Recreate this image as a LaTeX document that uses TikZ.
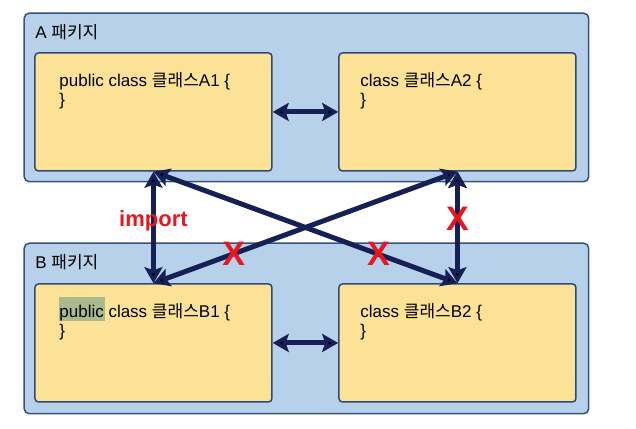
\documentclass[tikz,border=0pt]{standalone}
\usepackage{fontspec}
\setmainfont{Liberation Sans}
\newfontfamily\kr{Noto Sans CJK KR}
\usetikzlibrary{positioning,calc,backgrounds,arrows.meta}

\definecolor{pkgfill}{RGB}{184,209,234}
\definecolor{pkgline}{RGB}{52,82,128}
\definecolor{clsfill}{RGB}{251,226,150}
\definecolor{clsline}{RGB}{48,74,118}
\definecolor{navy}{RGB}{22,32,84}
\definecolor{xred}{RGB}{232,22,30}
\definecolor{selgreen}{RGB}{169,186,142}

\tikzstyle{package}=[draw=pkgline,line width=1.5pt,fill=pkgfill,rounded corners=5pt]
\tikzstyle{classbox}=[draw=clsline,line width=1.5pt,fill=clsfill,rounded corners=3.5pt,minimum width=237pt,minimum height=118pt]
\tikzstyle{codetext}=[inner sep=0pt,align=left,font=\fontsize{17}{19}\selectfont]
\tikzstyle{pkglabel}=[inner sep=0pt,font=\fontsize{17}{19}\selectfont]
\tikzstyle{link}=[line width=5pt,draw=navy]
\tikzstyle{redlabel}=[inner sep=0pt,text=xred,font=\bfseries\fontsize{22}{24}\selectfont]
\tikzstyle{deny}=[inner sep=0pt,text=xred,font=\bfseries\fontsize{34}{36}\selectfont]

\newcommand{\selword}[1]{\smash{\makebox[0pt][l]{\hspace*{-0.5pt}\textcolor{selgreen}{\rule[-4pt]{46pt}{24pt}}}}#1}

\begin{document}
\begin{tikzpicture}[>={Stealth[length=16pt,width=18pt,inset=3pt]}]
  \useasboundingbox (0,0) rectangle (636pt,-428pt);
  \matrix[anchor=north west,inner sep=0pt,row sep=111.5pt,column sep=65.5pt] at (34pt,-52pt) {
    \node (A1) [classbox] {}; &
    \node (A2) [classbox] {}; \\
    \node (B1) [classbox] {}; &
    \node (B2) [classbox] {}; \\
  };
  % packages behind the classes
  \begin{scope}[on background layer]
    \draw[package] ($(A1.north west)+(-10pt,39pt)$) rectangle ($(A2.south east)+(12pt,-10pt)$);
    \draw[package] ($(B1.north west)+(-10pt,40pt)$) rectangle ($(B2.south east)+(12pt,-11pt)$);
  \end{scope}
  \node[pkglabel,anchor=base west] (Alabel) at ($(A1.north west)+(1pt,14pt)$) {A {\kr 패키지}};
  \node[pkglabel,anchor=base west] (Blabel) at ($(B1.north west)+(1pt,15pt)$) {B {\kr 패키지}};
  \node[codetext,below right=20pt and 25pt of A1.north west] (A1code) {public class {\kr 클래스}A1 \{\\\}};
  \node[codetext,below right=20pt and 22pt of A2.north west] (A2code) {class {\kr 클래스}A2 \{\\\}};
  \node[codetext,below right=20pt and 25pt of B1.north west] (B1code) {\selword{public} class {\kr 클래스}B1 \{\\\}};
  \node[codetext,below right=20pt and 22pt of B2.north west] (B2code) {class {\kr 클래스}B2 \{\\\}};
  \path[<->,link]
  (A1) edge (A2)
  (B1) edge (B2)
  (A1) edge node[redlabel,pos=0.436] {import} (B1)
  (A2) edge node[deny,pos=0.425] {X} (B2)
  (A1.south) edge node[deny,pos=0.74] {X} (B2.north)
  (A2.south) edge node[deny,pos=0.736] {X} (B1.north);
\end{tikzpicture}
\end{document}
